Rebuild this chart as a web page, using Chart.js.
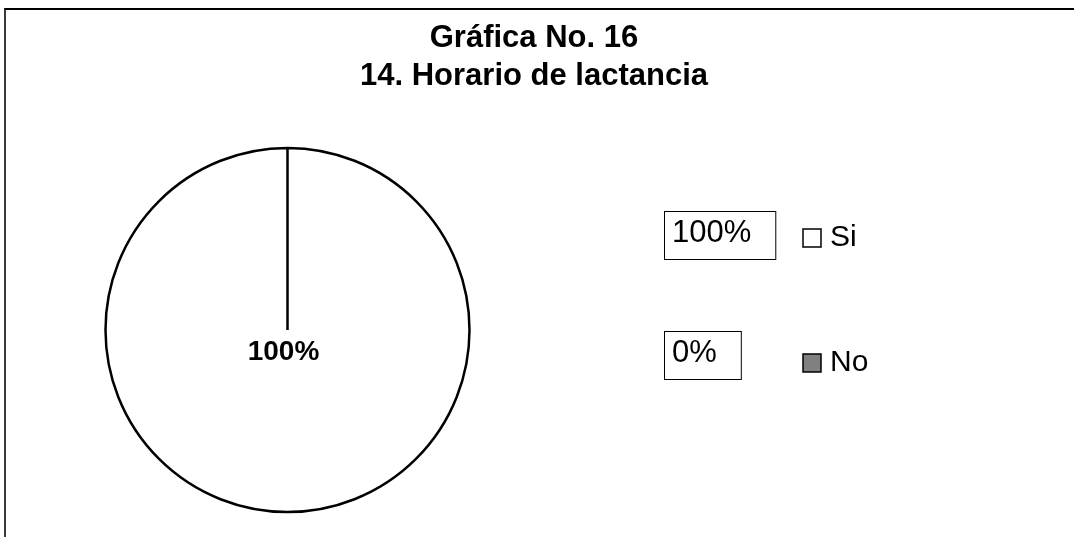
<!DOCTYPE html>
<html>
<head>
<meta charset="utf-8">
<script src="https://cdn.jsdelivr.net/npm/chart.js@4.4.1/dist/chart.umd.min.js"></script>
<style>
    html, body { margin: 0; padding: 0; background: #fff; overflow: hidden; }
    #frame { position: absolute; left: 4px; top: 8px; width: 1200px; height: 700px; border-top: 2px solid #000; border-left: 2px solid #3a3a3a; }
    #chart { position: absolute; left: 0; top: 0; }
</style>
</head>
<body>
<div id="frame"></div>
<canvas id="chart" width="1074" height="624"></canvas>
<script>
var titleLines = ['Gráfica No. 16', '14. Horario de lactancia'];
var categories = ['Si', 'No'];
var percentValues = [100, 0];
var sliceColors = ['#ffffff', '#808080'];

var FONT = "'Liberation Sans', Arial, sans-serif";

function pctText(values, i) {
    var total = values.reduce(function (a, b) { return a + b; }, 0);
    return Math.round(values[i] / total * 100) + '%';
}

// title box spans the whole frame, not only the pie area
var wideTitle = {
    id: 'wideTitle',
    afterLayout: function (chart) {
        var t = chart.titleBlock;
        if (!t) return;
        t.left = 0;
        t.right = 1068;
        t.width = 1068;
    }
};

// bold percentage inside the pie
var sliceLabels = {
    id: 'sliceLabels',
    afterDatasetsDraw: function (chart, args, opts) {
        var ctx = chart.ctx;
        var values = chart.data.datasets[0].data;
        var total = values.reduce(function (a, b) { return a + b; }, 0);
        var meta = chart.getDatasetMeta(0);
        ctx.save();
        ctx.font = 'bold 28px ' + FONT;
        ctx.fillStyle = '#000';
        ctx.textAlign = 'center';
        ctx.textBaseline = 'middle';
        meta.data.forEach(function (arc, i) {
            if (!values[i]) return;
            var pos = values[i] === total ? {x: arc.x + opts.dx, y: arc.y + opts.dy} : arc.tooltipPosition();
            ctx.fillText(pctText(values, i), pos.x, pos.y);
        });
        ctx.restore();
    }
};

// legend on the right with boxed percentages next to it
var sideLegend = {
    id: 'sideLegend',
    afterDraw: function (chart, args, opts) {
        var ctx = chart.ctx;
        var ds = chart.data.datasets[0];
        ctx.save();
        ctx.textAlign = 'left';
        ctx.textBaseline = 'middle';
        chart.data.labels.forEach(function (label, i) {
            var y = opts.top + i * opts.rowGap;
            ctx.fillStyle = ds.backgroundColor[i];
            ctx.fillRect(opts.x, y - 9, 18, 18);
            ctx.strokeStyle = '#000';
            ctx.lineWidth = 1.5;
            ctx.strokeRect(opts.x, y - 9, 18, 18);
            ctx.fillStyle = '#000';
            ctx.font = '30px ' + FONT;
            ctx.fillText(label, opts.x + 27, y);

            var txt = pctText(ds.data, i);
            ctx.font = '31px ' + FONT;
            var w = ctx.measureText(txt).width;
            var by = opts.boxTop + i * opts.boxGap;
            ctx.lineWidth = 1;
            ctx.strokeRect(opts.boxX + 0.5, by - 24 + 0.5, w + 32, 48);
            ctx.fillText(txt, opts.boxX + 8, by - 2);
        });
        ctx.restore();
    }
};

var chart = new Chart(document.getElementById('chart'), {
    type: 'pie',
    data: {
        labels: categories,
        datasets: [{
            data: percentValues,
            backgroundColor: sliceColors,
            borderColor: '#000',
            borderWidth: 2.5,
            hoverBorderWidth: 2.5
        }]
    },
    options: {
        responsive: false,
        animation: false,
        events: [],
        radius: 182,
        layout: {
            padding: {top: 0, left: 20, right: 519, bottom: 69}
        },
        plugins: {
            legend: {display: false},
            tooltip: {enabled: false},
            title: {
                display: true,
                text: titleLines,
                color: '#000',
                font: {family: FONT, size: 31, weight: 'bold', lineHeight: '38px'},
                padding: {top: 19, bottom: 10}
            },
            sliceLabels: {dx: -4, dy: 22},
            sideLegend: {x: 803, top: 238, rowGap: 125, boxX: 664, boxTop: 235, boxGap: 120}
        }
    },
    plugins: [wideTitle, sliceLabels, sideLegend]
});
</script>
</body>
</html>
